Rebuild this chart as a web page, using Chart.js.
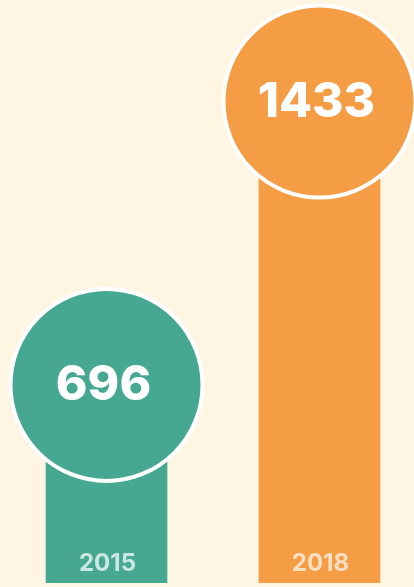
<!DOCTYPE html>
<html>
<head>
<meta charset="utf-8">
<script src="https://cdn.jsdelivr.net/npm/chart.js@4.4.0/dist/chart.umd.min.js"></script>
<style>
  html, body { margin: 0; padding: 0; background: #FEF5E3; overflow: hidden; width: 414px; height: 587px; }
  canvas { display: block; }
</style>
</head>
<body>
<canvas id="c" width="426" height="587"></canvas>
<script>
const categories = ['2015', '2018'];
const values = [696, 1433];
const barColors = ['#47A892', '#F59D44'];
const yearLabelColors = ['rgba(255,255,255,0.72)', 'rgba(255,255,255,0.68)'];

const labelPlugin = {
  id: 'labels',
  afterDatasetsDraw(chart) {
    const ctx = chart.ctx;
    const x = chart.scales.x, y = chart.scales.y;
    ctx.save();
    ctx.textAlign = 'center';
    ctx.textBaseline = 'middle';
    categories.forEach((cat, i) => {
      const px = x.getPixelForValue(i);
      const py = y.getPixelForValue(values[i]);
      ctx.fillStyle = '#FFFFFF';
      ctx.font = '800 48px Inter';
      ctx.fillText(String(values[i]), px - 3, py + 1);
      ctx.fillStyle = yearLabelColors[i];
      ctx.font = '700 24px Inter';
      ctx.fillText(cat, px + 1, chart.chartArea.bottom - 19);
    });
    ctx.restore();
  }
};

new Chart(document.getElementById('c'), {
  type: 'bar',
  data: {
    labels: categories,
    datasets: [
      {
        type: 'line',
        data: values,
        showLine: false,
        pointRadius: 96,
        pointHoverRadius: 96,
        pointBorderWidth: 4,
        pointHoverBorderWidth: 4,
        pointBorderColor: '#FFFFFF',
        pointBackgroundColor: barColors,
        clip: false,
        order: 0
      },
      {
        type: 'bar',
        data: values,
        backgroundColor: barColors,
        barThickness: 121,
        borderWidth: 0,
        order: 1
      }
    ]
  },
  options: {
    responsive: false,
    devicePixelRatio: 1,
    animation: false,
    events: [],
    layout: { autoPadding: false, padding: { top: 0, bottom: 4, left: 0, right: 0 } },
    plugins: { legend: { display: false }, tooltip: { enabled: false } },
    scales: {
      x: { display: false, offset: true },
      y: { display: false, min: 181, max: 1697 }
    }
  },
  plugins: [labelPlugin]
});
</script>
</body>
</html>
